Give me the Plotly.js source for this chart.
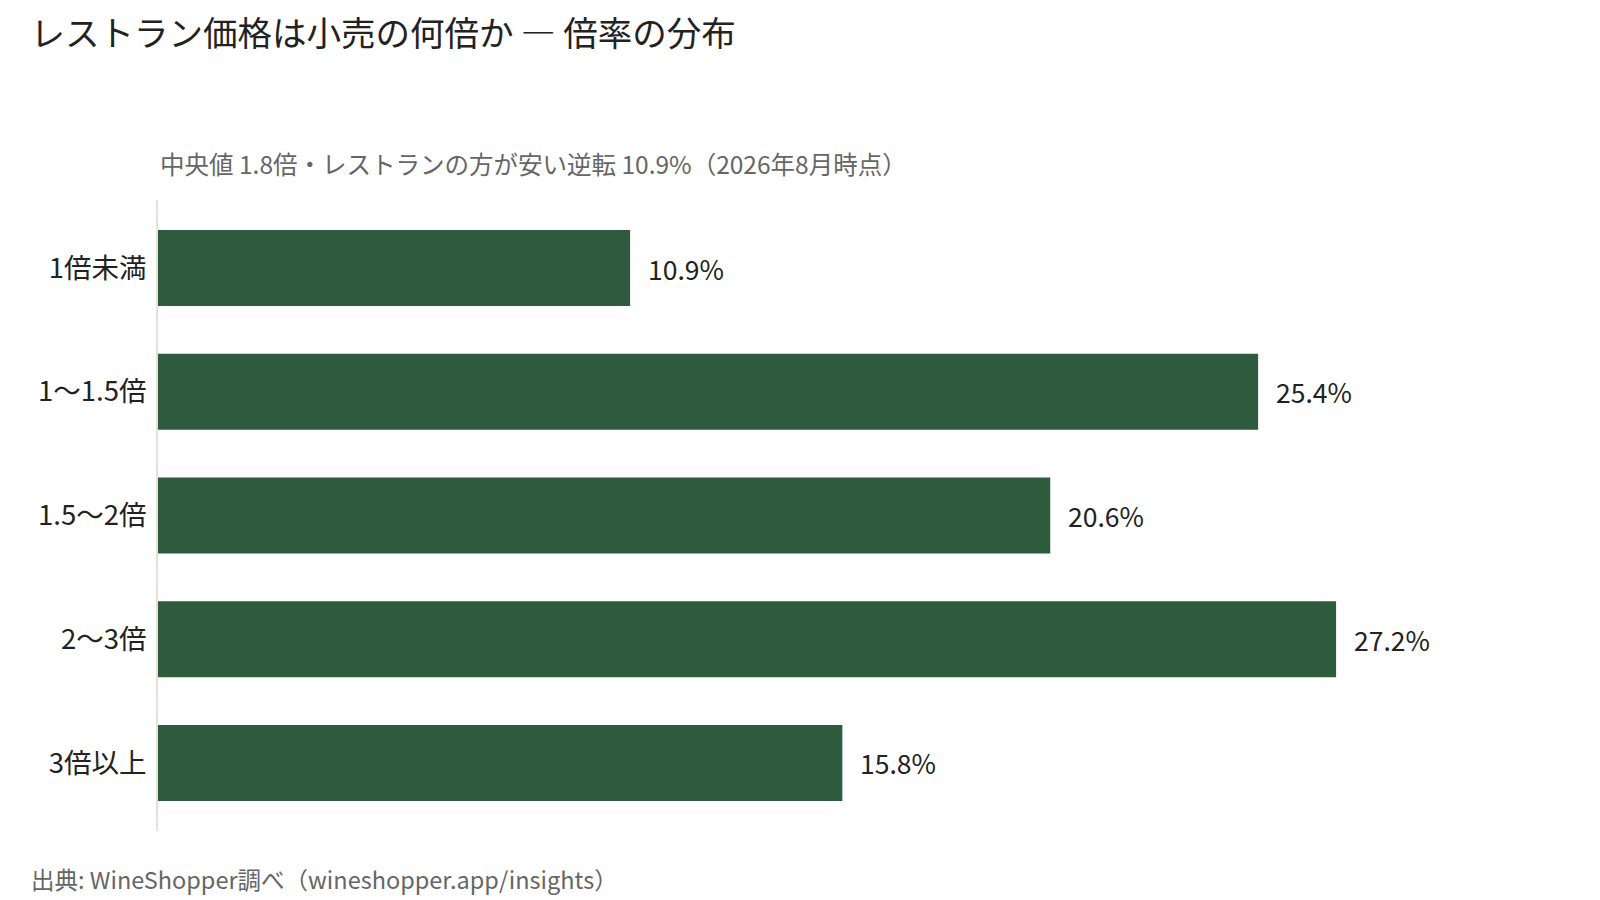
<!DOCTYPE html>
<html>
<head>
<meta charset="utf-8">
<script src="https://cdn.plot.ly/plotly-3.0.1.min.js"></script>
<style>
  body { margin: 0; background: white; }
  #chart { width: 1600px; height: 900px; }
</style>
</head>
<body>
<div id="chart"></div>
<script>
// categories and share (%) of restaurant price multiples
var categories = ["1倍未満", "1〜1.5倍", "1.5〜2倍", "2〜3倍", "3倍以上"];
var shares = [10.9, 25.4, 20.6, 27.2, 15.8];

var FONT = "Noto Sans CJK JP, Noto Sans, sans-serif";
var barColor = "#2e5b3e";

var data = [{
  type: "bar",
  orientation: "h",
  x: shares,
  y: categories,
  marker: { color: barColor },
  width: 0.615,
  hoverinfo: "none"
}];

// value labels just right of each bar
var annotations = shares.map(function (v, i) {
  return {
    x: v, y: categories[i], xref: "x", yref: "y",
    text: v.toFixed(1) + "%",
    showarrow: false, xanchor: "left", yanchor: "middle",
    xshift: 16,
    font: { family: FONT, size: 26.5, color: "#222" }
  };
});

annotations.push({
  xref: "paper", yref: "paper", x: 0, y: 1.058,
  xanchor: "left", yanchor: "middle", showarrow: false,
  text: "中央値 1.8倍・レストランの方が安い逆転 10.9%（2026年8月時点）",
  font: { family: FONT, size: 24.5, color: "#666" }
});
annotations.push({
  xref: "paper", yref: "paper", x: -0.093, y: -0.076,
  xanchor: "left", yanchor: "middle", showarrow: false,
  text: "出典: WineShopper調べ（wineshopper.app/insights）",
  font: { family: FONT, size: 23.5, color: "#666" }
});

var layout = {
  width: 1600, height: 900,
  margin: { l: 158, r: 56, t: 200, b: 69 },
  paper_bgcolor: "white",
  plot_bgcolor: "white",
  font: { family: FONT, color: "#222" },
  showlegend: false,
  title: {
    text: "レストラン価格は小売の何倍か ― 倍率の分布",
    xref: "container", yref: "container",
    x: 0.019, y: 0.962, xanchor: "left", yanchor: "middle",
    font: { family: FONT, size: 34.5, color: "#222" }
  },
  xaxis: {
    range: [0, 32],
    showgrid: false, zeroline: false, showline: false,
    showticklabels: false, ticks: ""
  },
  yaxis: {
    type: "category",
    range: [4.55, -0.55],
    showgrid: false, zeroline: false,
    showline: true, linecolor: "#e5e1d8", linewidth: 2,
    ticks: "", ticklabelstandoff: 4,
    tickfont: { family: FONT, size: 27.5, color: "#222" }
  },
  annotations: annotations
};

Plotly.newPlot("chart", data, layout, { displayModeBar: false, staticPlot: true });
</script>
</body>
</html>
